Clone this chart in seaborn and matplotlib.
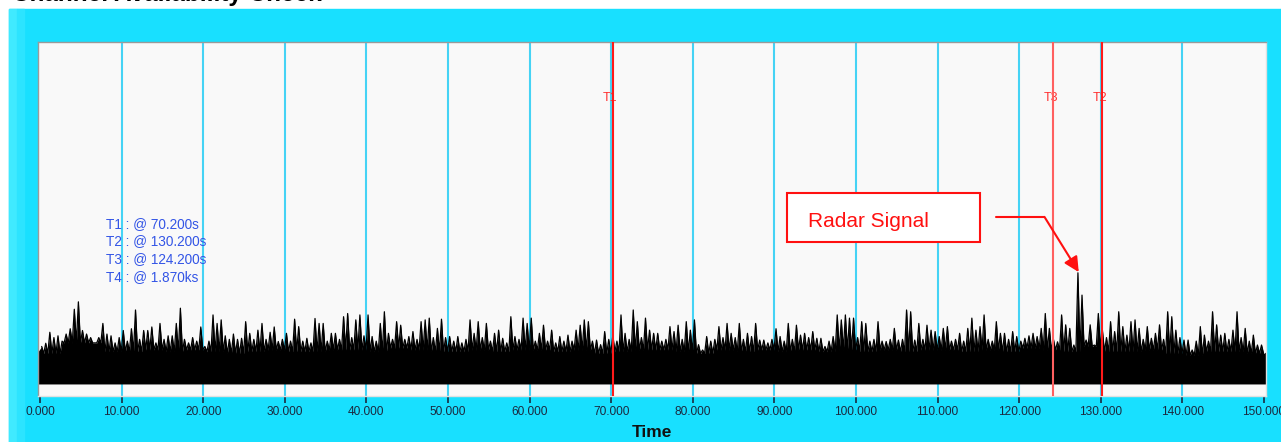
import numpy as np
import pandas as pd
import matplotlib.pyplot as plt
import matplotlib.patches as patches
import seaborn as sns

# spike peak per 0.5 s bin, 0 .. 150 s (amplitude, arbitrary units, 0-100 axis)
spikes = [
    14.0, 14.9, 18.0, 16.5, 17.0, 15.5, 17.5, 19.0, 24.5, 26.6,
    18.5, 17.5, 16.5, 15.0, 16.5, 20.5, 17.5, 17.0, 15.0, 16.5,
    18.5, 15.5, 19.0, 24.3, 16.0, 18.5, 18.5, 19.5, 15.0, 20.5,
    16.0, 17.0, 17.0, 20.5, 24.8, 16.0, 15.0, 16.5, 15.5, 19.5,
    14.0, 15.5, 22.9, 20.5, 21.5, 17.0, 16.0, 17.5, 16.0, 16.3,
    21.0, 17.7, 16.0, 18.6, 20.5, 16.0, 18.0, 19.5, 15.4, 16.0,
    17.7, 15.5, 21.7, 19.6, 15.5, 16.3, 15.0, 21.9, 20.5, 20.5,
    15.5, 17.7, 17.7, 16.0, 22.4, 23.3, 16.5, 21.5, 22.9, 17.0,
    22.9, 16.8, 15.5, 20.5, 23.8, 17.7, 16.0, 21.0, 20.0, 16.0,
    16.8, 18.2, 16.0, 21.0, 21.5, 22.0, 16.5, 19.1, 21.7, 16.5,
    16.8, 15.5, 16.8, 15.0, 16.0, 21.5, 17.7, 21.0, 16.5, 20.5,
    15.5, 17.7, 18.6, 16.3, 15.0, 22.4, 16.8, 16.0, 22.0, 20.5,
    22.0, 15.5, 17.7, 20.0, 15.5, 18.6, 15.0, 16.8, 15.5, 17.2,
    15.5, 18.6, 20.0, 21.5, 21.0, 15.5, 15.8, 14.5, 18.2, 16.0,
    17.2, 15.5, 22.9, 17.7, 16.0, 24.3, 21.0, 16.5, 22.0, 18.6,
    17.7, 17.7, 15.5, 16.0, 19.6, 18.2, 20.0, 16.0, 21.0, 18.6,
    21.5, 14.5, 13.0, 16.8, 15.5, 16.0, 19.6, 16.5, 20.5, 17.7,
    16.5, 20.5, 16.0, 17.7, 16.8, 20.5, 15.8, 15.8, 15.0, 16.0,
    19.0, 16.8, 15.5, 20.5, 16.0, 20.0, 17.2, 17.7, 16.5, 18.2,
    16.3, 16.3, 14.0, 15.5, 16.8, 22.9, 21.5, 22.9, 22.0, 22.0,
    16.5, 21.0, 20.5, 15.5, 16.0, 21.0, 15.5, 15.4, 16.0, 19.1,
    15.8, 16.0, 24.3, 23.8, 15.8, 20.5, 16.0, 20.0, 18.6, 18.2,
    16.8, 19.1, 19.6, 15.5, 16.0, 17.7, 15.5, 19.1, 22.0, 18.6,
    19.6, 22.9, 16.0, 15.5, 21.0, 17.7, 17.7, 16.0, 18.2, 16.8,
    15.5, 16.3, 17.0, 17.7, 16.8, 19.1, 23.3, 19.1, 16.0, 15.3,
    22.9, 20.1, 19.1, 14.4, 34.8, 28.5, 15.8, 20.1, 14.4, 23.3,
    18.6, 16.5, 21.0, 18.2, 23.8, 19.6, 17.2, 21.0, 21.5, 19.1,
    16.0, 19.6, 16.3, 17.7, 20.1, 16.0, 23.8, 22.4, 18.6, 16.5,
    15.8, 15.8, 13.0, 15.5, 19.6, 17.2, 15.5, 23.8, 20.1, 17.2,
    17.7, 16.0, 18.6, 23.8, 16.5, 19.1, 15.5, 17.2, 14.4, 14.4,
]

# dense body top per 2.5 s block
body = [
    12.5, 15.5, 15.5, 13.0, 13.0, 13.5, 13.0, 13.5, 13.0, 12.5,
    13.0, 13.5, 13.0, 13.0, 13.5, 13.5, 13.0, 14.0, 13.5, 13.0,
    13.0, 13.5, 13.0, 13.5, 13.5, 13.0, 13.5, 12.5, 13.0, 13.5,
    13.5, 13.0, 12.5, 13.5, 13.0, 13.5, 13.0, 13.5, 13.0, 13.5,
    13.0, 13.5, 13.0, 13.5, 13.5, 13.0, 13.5, 13.0, 14.0, 13.5,
    13.0, 14.5, 13.0, 13.0, 13.5, 12.5, 12.0, 13.0, 13.0, 12.5,
]
floor = 3.8

cursor_names = ["T1", "T2", "T3"]
cursor_times = [70.2, 130.2, 124.2]
readout = ["T1 : @ 70.200s", "T2 : @ 130.200s", "T3 : @ 124.200s", "T4 : @ 1.870ks"]
xticks = list(range(0, 151, 10))

# trace: spike top at each bin centre, back down to the body level in between
t_bins = np.arange(len(spikes)) * 0.5 + 0.2
rows = []
for t, s in zip(t_bins, spikes):
    rows.append((t, s))
    rows.append((t + 0.25, body[min(int((t + 0.25) // 2.5), len(body) - 1)] - 0.5))
trace = pd.DataFrame(rows, columns=["time", "amp"])

sns.set_style("white")
plt.rcParams['font.family'] = ['Liberation Sans', 'DejaVu Sans']

fig = plt.figure(figsize=(12.81, 4.42), dpi=100)
fig.patch.set_facecolor("white")
W, H = 1281, 442
fig.patches.append(patches.Rectangle((9 / W, 0), 1, (H - 9) / H, transform=fig.transFigure,
                                     color="#18e0ff", zorder=-2))
fig.patches.append(patches.Rectangle((9 / W, 0), 8 / W, (H - 9) / H, transform=fig.transFigure,
                                     color="#40eaff", zorder=-1))
fig.patches.append(patches.Rectangle((17 / W, 0), 7 / W, (H - 9) / H, transform=fig.transFigure,
                                     color="#2ce4ff", zorder=-1))
fig.text(12 / W, 1 - 1 / H, "Channel Availability Check", fontsize=17.5, fontweight="bold",
         va="baseline", ha="left", color="black")

ax = fig.add_axes([38 / W, (H - 396) / H, (1266 - 38) / W, (396 - 42) / H])
ax.set_zorder(2)
ax.set_facecolor("#f9f9f9")

for x in xticks[1:-1]:
    ax.axvline(x, color="#45d3f5", lw=1.5, zorder=1)

# filled trace (floor up to the spiky envelope) and its outline
ax.fill_between(np.concatenate([[-0.25], trace["time"], [150.25]]),
                floor - 0.4,
                np.concatenate([[body[0]], trace["amp"], [body[-1]]]),
                color="black", lw=0, zorder=2)
sns.lineplot(data=trace, x="time", y="amp", sort=False, estimator=None,
             color="black", lw=0.9, ax=ax, zorder=3)

for name, t in zip(cursor_names, cursor_times):
    c = "#ff6060" if name == "T3" else "#ff1a1a"
    ax.axvline(t, color=c, lw=1.5, zorder=4)
    ax.text(t - 0.3, 84.3, name, color="#ff3030", fontsize=9, ha="center", va="center")

for i, line in enumerate(readout):
    ax.text(8.1, 48.7 - i * 5.0, line, color="#3355e6", fontsize=9.8, ha="left", va="center")

ax.add_patch(patches.Rectangle((91.5, 43.6), 23.7, 13.7, facecolor="white",
                               edgecolor="#ff1010", lw=1.5, zorder=5))
ax.text(94.1, 49.2, "Radar Signal", color="#ff1010", fontsize=15, ha="left", va="center", zorder=6)
ax.plot([117.2, 123.1], [50.6, 50.6], color="#ff1010", lw=1.5, zorder=5)
ax.annotate("", xy=(127.3, 35.0), xytext=(123.1, 50.6),
            arrowprops=dict(arrowstyle="-|>,head_length=0.9,head_width=0.45",
                            color="#ff1010", lw=1.5, shrinkA=0, shrinkB=0), zorder=5)

ax.set_xlim(-0.25, 150.25)
ax.set_ylim(0, 100)
ax.set_xticks(xticks)
ax.set_xticklabels([f"{x:.3f}" for x in xticks], fontsize=8.6, color="#1a2a40")
ax.set_yticks([])
ax.tick_params(axis="x", direction="out", length=5, width=1.2, color="#1a2a40", pad=2, bottom=True)
ax.set_xlabel("Time", fontsize=12.5, fontweight="bold", color="#111111", labelpad=5)
ax.set_ylabel("")
for side in ["left", "top"]:
    ax.spines[side].set_color("#9a9a9a")
    ax.spines[side].set_linewidth(1)
for side in ["right", "bottom"]:
    ax.spines[side].set_color("#e0e0e0")
    ax.spines[side].set_linewidth(1)

fig.savefig("out.png", dpi=100)
